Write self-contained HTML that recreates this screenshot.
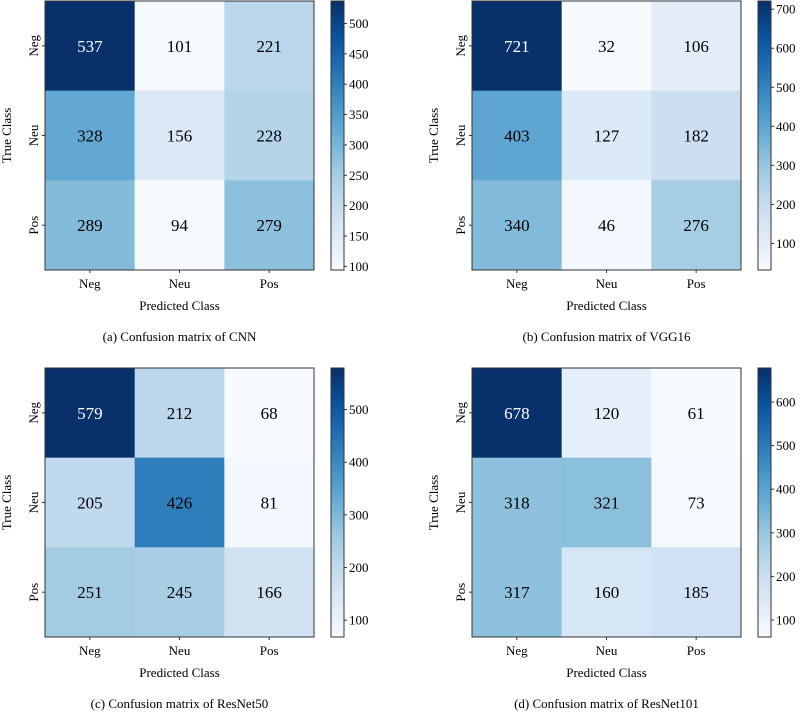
<!DOCTYPE html>
<html><head><meta charset="utf-8"><style>
body{margin:0;background:#fff;width:800px;height:712px;overflow:hidden}
svg text{font-family:"Liberation Serif","Times New Roman",serif}
</style></head><body>
<svg id="root" width="800" height="712" xmlns="http://www.w3.org/2000/svg"></svg>
<script>
const classes = ["Neg","Neu","Pos"];
const cnnValues = [[537,101,221],[328,156,228],[289,94,279]];
const vggValues = [[721,32,106],[403,127,182],[340,46,276]];
const res50Values = [[579,212,68],[205,426,81],[251,245,166]];
const res101Values = [[678,120,61],[318,321,73],[317,160,185]];
const cnnTicks = [100,150,200,250,300,350,400,450,500];
const vggTicks = [100,200,300,400,500,600,700];
const res50Ticks = [100,200,300,400,500];
const res101Ticks = [100,200,300,400,500,600];
const captions = ["(a) Confusion matrix of CNN","(b) Confusion matrix of VGG16","(c) Confusion matrix of ResNet50","(d) Confusion matrix of ResNet101"];

const stops=["#f7fbff","#deebf7","#c6dbef","#9ecae1","#6baed6","#4292c6","#2171b5","#08519c","#08306b"].map(h=>[1,3,5].map(i=>parseInt(h.substr(i,2),16)));
function blues(t){t=Math.max(0,Math.min(1,t));const p=t*8,i=Math.min(7,Math.floor(p)),f=p-i;const c=stops[i].map((v,k)=>Math.round(v+(stops[i+1][k]-v)*f));return `rgb(${c.join(",")})`;}
const NS="http://www.w3.org/2000/svg";
const root=document.getElementById('root');
function el(tag,attrs,parent,text){const e=document.createElementNS(NS,tag);for(const k in attrs)e.setAttribute(k,attrs[k]);if(text!==undefined)e.textContent=text;parent.appendChild(e);return e;}

function panel(vals,ticks,cap,ox,oy,name){
  const g=el('g',{},root);
  
  
  const W=269,H=269,cw=W/3,ch=H/3;
  const flat=vals.flat(),vmin=Math.min(...flat),vmax=Math.max(...flat);
  const xs=j=>ox+j*cw, ys=i=>oy+i*ch;
  vals.forEach((row,i)=>row.forEach((v,j)=>{
    const r=el('rect',{x:xs(j),y:ys(i),width:cw+0.5,height:ch+0.5,fill:blues((v-vmin)/(vmax-vmin))},g);
    
    
    const t=el('text',{x:xs(j)+cw/2,y:ys(i)+ch/2+6,'text-anchor':'middle','font-size':'17',fill:v>vmax*0.75?'#fff':'#000'},g,String(v));
    
    
  }));
  el('rect',{x:ox,y:oy,width:W,height:H,fill:'none',stroke:'#333','stroke-width':1},g);
  classes.forEach((c,k)=>{
    el('line',{x1:xs(k)+cw/2,x2:xs(k)+cw/2,y1:oy+H,y2:oy+H+3,stroke:'#333'},g);
    const tx=el('text',{x:xs(k)+cw/2,y:oy+H+18,'text-anchor':'middle','font-size':'13'},g,c);
    
    
    el('line',{x1:ox-3,x2:ox,y1:ys(k)+ch/2,y2:ys(k)+ch/2,stroke:'#333'},g);
    const cy=ys(k)+ch/2;
    const ty=el('text',{x:ox-7,y:cy,'text-anchor':'middle','font-size':'13',transform:`rotate(-90 ${ox-7} ${cy})`},g,c);
    
    
  });
  const xl=el('text',{x:ox+W/2,y:oy+H+40,'text-anchor':'middle','font-size':'13'},g,'Predicted Class');
  
  
  const yx=ox-34,yy=oy+H/2;
  const yl=el('text',{x:yx,y:yy,'text-anchor':'middle','font-size':'13',transform:`rotate(-90 ${yx} ${yy})`},g,'True Class');
  
  
  const cp=el('text',{x:ox+W/2,y:oy+H+71,'text-anchor':'middle','font-size':'13'},g,cap);
  
  
  const cx=ox+286,cbw=13;
  const n=60;
  for(let k=0;k<n;k++){
    const r=el('rect',{x:cx,y:oy+H-(k+1)*H/n,width:cbw,height:H/n+0.6,fill:blues((k+0.5)/n)},g);
    
    
  }
  el('rect',{x:cx,y:oy,width:cbw,height:H,fill:'none',stroke:'#333'},g);
  const cyv=v=>oy+H-(v-vmin)/(vmax-vmin)*H;
  ticks.forEach(v=>{
    el('line',{x1:cx+cbw,x2:cx+cbw+3,y1:cyv(v),y2:cyv(v),stroke:'#333'},g);
    const t=el('text',{x:cx+cbw+5,y:cyv(v)+4.5,'font-size':'13'},g,String(v));
    
    
  });
}
panel(cnnValues,cnnTicks,captions[0],45,1,'cnn-matrix');
panel(vggValues,vggTicks,captions[1],472,1,'vgg16-matrix');
panel(res50Values,res50Ticks,captions[2],45,368,'resnet50-matrix');
panel(res101Values,res101Ticks,captions[3],472,368,'resnet101-matrix');
</script>
</body></html>
